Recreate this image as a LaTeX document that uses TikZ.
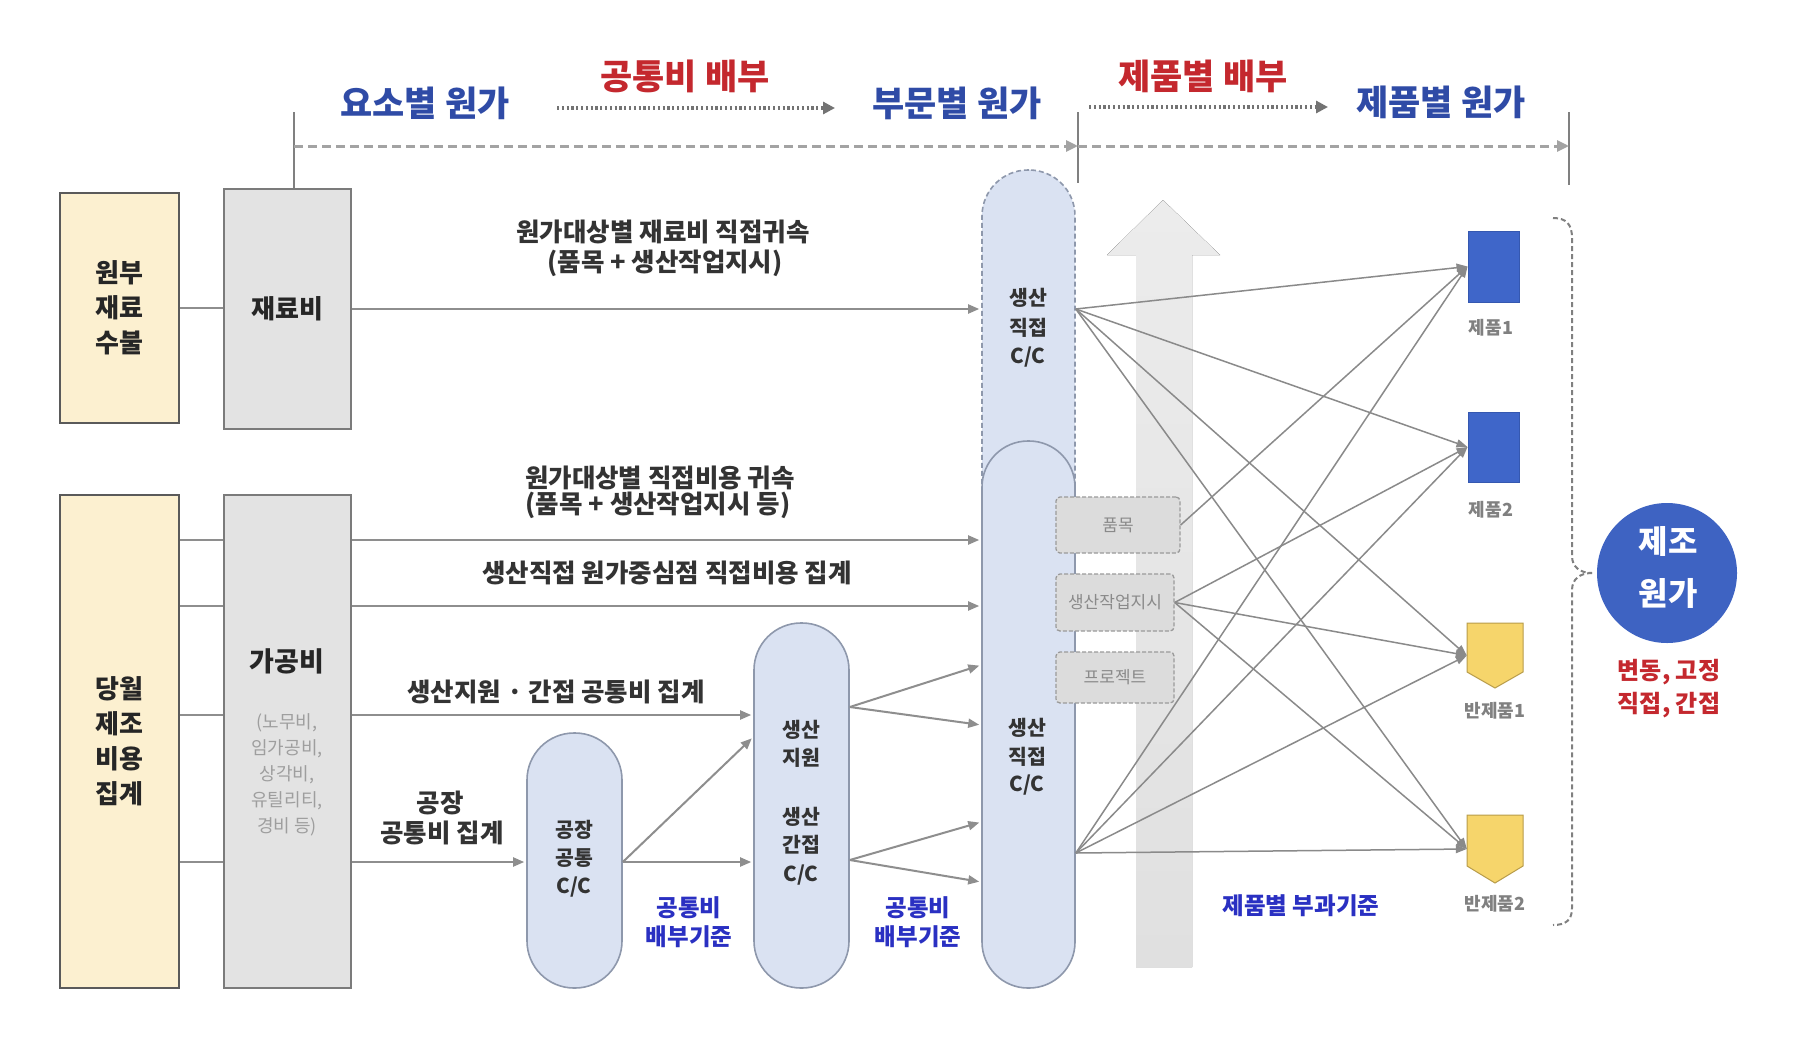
\documentclass[tikz,border=0pt]{standalone}
\usepackage{fontspec}
\setmainfont{Noto Sans CJK KR}
\usetikzlibrary{arrows.meta,shadings}
\definecolor{ybox}{HTML}{FCF0D0}
\definecolor{gbox}{HTML}{E3E3E3}
\definecolor{bxb}{HTML}{5A5A5A}
\definecolor{pillf}{HTML}{DAE2F2}
\definecolor{pillb}{HTML}{8E98AC}
\definecolor{hblue}{HTML}{2F4BA6}
\definecolor{hred}{HTML}{C4282E}
\definecolor{lblue}{HTML}{2A30C2}
\definecolor{lgray}{HTML}{8E8E8E}
\definecolor{fgray}{HTML}{8A8A8A}
\definecolor{txt}{HTML}{333333}
\definecolor{pblue}{HTML}{3F66C9}
\definecolor{pbd}{HTML}{3558B0}
\definecolor{pyel}{HTML}{F6D56B}
\definecolor{pyeb}{HTML}{B89C4A}
\definecolor{cblue}{HTML}{3E63C2}
\definecolor{sbf}{HTML}{DCDCDC}
\definecolor{sbb}{HTML}{9A9A9A}
\definecolor{sbt}{HTML}{8A8A8A}
\definecolor{arrT}{HTML}{ECECEC}
\definecolor{arrB}{HTML}{E0E0E0}
\definecolor{hdl}{HTML}{A3A3A3}
\tikzset{
  boxY/.style={draw=bxb, fill=ybox, line width=2.2pt, inner sep=0pt, align=center, font=\bfseries\fontsize{26}{35}\selectfont, text=black!85},
  boxG/.style={draw=bxb!80, fill=gbox, line width=2.2pt, inner sep=0pt, align=center, font=\bfseries\fontsize{26}{35}\selectfont, text=black!85},
  pillS/.style={draw=pillb, fill=pillf, line width=1.6pt, inner sep=0pt},
  smallbox/.style={draw=sbb, fill=sbf, dash pattern=on 4pt off 2pt, line width=1.3pt, rounded corners=4pt, inner sep=0pt, font=\fontsize{17}{20}\selectfont, text=sbt},
  cline/.style={draw=lgray, line width=2pt},
  carr/.style={cline, shorten >=2pt, -{Triangle[length=11pt,width=9pt]}},
  fan/.style={draw=fgray, line width=1.5pt, -{Triangle[length=11pt,width=8pt]}},
  hdr/.style={inner sep=0pt, font=\bfseries\fontsize{35}{40}\selectfont},
  lbl/.style={inner sep=0pt, font=\bfseries\fontsize{25.5}{28}\selectfont, text=txt},
  ptx/.style={inner sep=0pt, font=\bfseries\fontsize{20.5}{24}\selectfont, text=txt},
  blx/.style={inner sep=0pt, font=\bfseries\fontsize{23.5}{28}\selectfont, text=lblue},
  plab/.style={inner sep=0pt, font=\bfseries\fontsize{18}{22}\selectfont, text=black!50},
  vline/.style={draw=black!50, line width=1.6pt},
  hdash/.style={draw=hdl, line width=3pt, dash pattern=on 9pt off 5pt, -{Triangle[length=12pt,width=11pt]}},
  hdot/.style={draw=black!55, line width=3.2pt, dash pattern=on 2.2pt off 2.6pt, -{Triangle[length=12pt,width=12pt]}},
  brace/.style={draw=black!50, line width=2pt, dash pattern=on 5pt off 3pt},
}
\begin{document}
\begin{tikzpicture}[x=1pt,y=-1pt]
\useasboundingbox (0,0) rectangle (1798,1042);
\fill[white] (0,0) rectangle (1798,1042);

% helper y-levels
\foreach \v in {309,540,606,665,707,715,725,737,822,853,860,862,882}{\coordinate (y\v) at (0,\v);}

% big gray up arrow
\fill[top color=arrT, bottom color=arrB] (1136,967) -- (1136,255) -- (1107,255) -- (1163,200) -- (1220,255) -- (1192,255) -- (1192,967) -- cycle;

% left boxes
\node[boxY, minimum width=119pt, minimum height=230pt] (wb) at (119.5,308) {원부\\재료\\수불};
\node[boxG, minimum width=127pt, minimum height=240pt] (jr) at (287.5,309) {재료비};
\node[boxY, minimum width=119pt, minimum height=493pt] (dw) at (119.5,741.5) {당월\\제조\\비용\\집계};
\node[boxG, minimum width=127pt, minimum height=493pt] (gb) at (287.5,741.5) {};
\node[inner sep=0pt, font=\bfseries\fontsize{27}{30}\selectfont, text=black!85] (gbt) at (287,661) {가공비};
\node[inner sep=0pt, align=center, font=\fontsize{18}{26}\selectfont, text=black!38] (gbs) at (287,775) {(노무비,\\임가공비,\\상각비,\\유틸리티,\\경비 등)};

% pills
\node[pillS, dash pattern=on 5pt off 3pt, rounded corners=46pt, minimum width=93pt, minimum height=530pt] (pu) at (1028.5,435) {};
\node[pillS, rounded corners=46pt, minimum width=93pt, minimum height=547pt] (pd) at (1028.5,714.5) {};
\node[pillS, rounded corners=47pt, minimum width=95pt, minimum height=365pt] (ps) at (801.5,805.5) {};
\node[pillS, rounded corners=47pt, minimum width=95pt, minimum height=255pt] (pf) at (574.5,860.5) {};

% pill texts
\node[ptx] (pu1) at (1028,298) {생산};
\node[ptx] (pu2) at (1028,328) {직접};
\node[ptx] (pu3) at (1028,357) {C/C};
\node[ptx] (pd1) at (1027,728) {생산};
\node[ptx] (pd2) at (1027,757) {직접};
\node[ptx] (pd3) at (1027,785) {C/C};
\node[ptx] (ps1) at (801,730) {생산};
\node[ptx] (ps2) at (801,758) {지원};
\node[ptx] (ps3) at (801,817) {생산};
\node[ptx] (ps4) at (801,845) {간접};
\node[ptx] (ps5) at (801,875) {C/C};
\node[ptx] (pf1) at (574,830) {공장};
\node[ptx] (pf2) at (574,858) {공통};
\node[ptx] (pf3) at (574,887) {C/C};

% small dashed boxes
\node[smallbox, minimum width=124pt, minimum height=56pt] (bp) at (1118,525) {품목};
\node[smallbox, minimum width=118pt, minimum height=57pt] (bw) at (1115,602.5) {생산작업지시};
\node[smallbox, minimum width=118pt, minimum height=51pt] (bj) at (1115,677.5) {프로젝트};

% products
\node[draw=pbd, fill=pblue, line width=1pt, minimum width=51pt, minimum height=71pt, inner sep=0pt] (p1) at (1493.5,266.5) {};
\node[draw=pbd, fill=pblue, line width=1pt, minimum width=51pt, minimum height=70pt, inner sep=0pt] (p2) at (1493.5,447) {};
\node[inner sep=0pt, minimum width=56pt, minimum height=65pt] (h1) at (1495,655.5) {};
\node[inner sep=0pt, minimum width=56pt, minimum height=68pt] (h2) at (1495,849) {};
\filldraw[fill=pyel, draw=pyeb, line width=1pt] (1467,623) -- (1523,623) -- (1523,672) -- (1495,688) -- (1467,672) -- cycle;
\filldraw[fill=pyel, draw=pyeb, line width=1pt] (1467,815) -- (1523,815) -- (1523,866) -- (1495,883) -- (1467,866) -- cycle;
\node[plab] (p1l) at (1491,328) {제품1};
\node[plab] (p2l) at (1491,510) {제품2};
\node[plab] (h1l) at (1495,711) {반제품1};
\node[plab] (h2l) at (1495,904) {반제품2};

% circle
\node[circle, fill=cblue, minimum size=140pt, inner sep=0pt] (mc) at (1667,573) {};
\node[inner sep=0pt, font=\bfseries\fontsize{32}{36}\selectfont, text=white] (mc1) at (1668,541) {제조};
\node[inner sep=0pt, font=\bfseries\fontsize{32}{36}\selectfont, text=white] (mc2) at (1668,593) {원가};
\node[inner sep=0pt, font=\bfseries\fontsize{24}{28}\selectfont, text=hred] (r1) at (1669,672) {변동, 고정};
\node[inner sep=0pt, font=\bfseries\fontsize{24}{28}\selectfont, text=hred] (r2) at (1669,705) {직접, 간접};

% brace
\draw[brace] (1553,218) .. controls (1566,218) and (1572,224) .. (1572,238) -- (1572,556) .. controls (1572,567) and (1580,573) .. (1592,573);
\draw[brace] (1592,573) .. controls (1580,573) and (1572,579) .. (1572,590) -- (1572,908) .. controls (1572,920) and (1566,925) .. (1553,925);

% header
\coordinate (v1) at (294,112);
\coordinate (v2) at (1078,112);
\coordinate (v3) at (1569,112);
\coordinate (v2b) at (1078,183);
\coordinate (v3b) at (1569,185);
\coordinate (d1) at (294,146);
\coordinate (d2) at (1078,146);
\coordinate (d3) at (1569,146);
\draw[vline] (v1) -- (v1 |- jr.north);
\draw[vline] (v2) -- (v2b);
\draw[vline] (v3) -- (v3b);
\draw[hdash] (d1) -- (d2);
\draw[hdash] (d2) -- (d3);
\coordinate (o1) at (557,108);
\coordinate (o2) at (835,108);
\coordinate (o3) at (1089,107);
\coordinate (o4) at (1328,107);
\draw[hdot] (o1) -- (o2);
\draw[hdot] (o3) -- (o4);
\node[hdr, text=hblue] (h_a) at (425,103) {요소별 원가};
\node[hdr, text=hred] (h_b) at (685,76) {공통비 배부};
\node[hdr, text=hblue] (h_c) at (957,103) {부문별 원가};
\node[hdr, text=hred] (h_d) at (1203,76) {제품별 배부};
\node[hdr, text=hblue] (h_e) at (1441,102) {제품별 원가};

% connector labels
\node[lbl] (t1) at (663,232) {원가대상별 재료비 직접귀속};
\node[lbl] (t2) at (665,263) {(품목 + 생산작업지시)};
\node[lbl] (t3) at (660,478) {원가대상별 직접비용 귀속};
\node[lbl] (t4) at (658,505) {(품목 + 생산작업지시 등)};
\node[lbl] (t5) at (667,573) {생산직접 원가중심점 직접비용 집계};
\node[lbl] (t6) at (556,692) {생산지원 · 간접 공통비 집계};
\node[lbl] (t7) at (440,803) {공장};
\node[lbl] (t8) at (442,833) {공통비 집계};
\node[blx] (b1) at (689,908) {공통비};
\node[blx] (b2) at (689,937) {배부기준};
\node[blx] (b3) at (918,908) {공통비};
\node[blx] (b4) at (918,937) {배부기준};
\node[blx] (b5) at (1301,906) {제품별 부과기준};

% connectors left
\draw[cline] (wb.east) -- (wb.east -| jr.west);
\draw[carr] (jr.east) -- (jr.east -| pu.west);
\foreach \v in {540,606,715,862}{\draw[cline] (dw.east |- y\v) -- (gb.west |- y\v);}
\draw[carr] (gb.east |- y540) -- (pd.west |- y540);
\draw[carr] (gb.east |- y606) -- (pd.west |- y606);
\draw[carr] (gb.east |- y715) -- (ps.west |- y715);
\draw[carr] (gb.east |- y862) -- (pf.west |- y862);
\draw[carr] (pf.east |- y862) -- (ps.west |- y862);
\draw[carr] (pf.east |- y862) -- (ps.west |- y737);
\draw[carr] (ps.east |- y707) -- (pd.west |- y665);
\draw[carr] (ps.east |- y707) -- (pd.west |- y725);
\draw[carr] (ps.east |- y860) -- (pd.west |- y822);
\draw[carr] (ps.east |- y860) -- (pd.west |- y882);

% fan lines
\coordinate (us) at (pu.east |- y309);
\coordinate (ls) at (pd.east |- y853);
\foreach \t in {p1,p2,h1,h2}{\draw[fan] (us) -- (\t.west);}
\draw[fan] (bp.east) -- (p1.west);
\foreach \t in {p2,h1,h2}{\draw[fan] (bw.east) -- (\t.west);}
\foreach \t in {p1,p2,h1,h2}{\draw[fan] (ls) -- (\t.west);}
\end{tikzpicture}
\end{document}
